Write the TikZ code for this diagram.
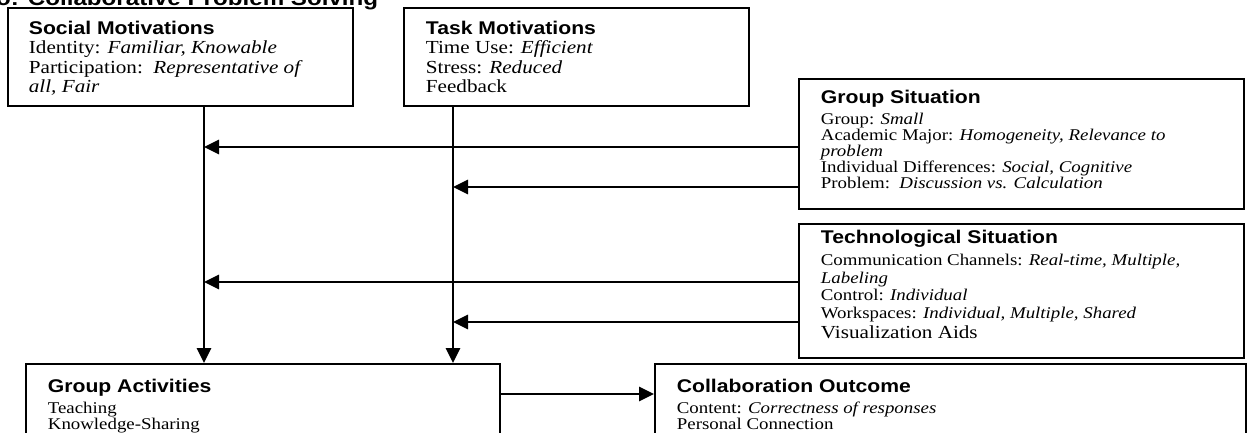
\documentclass[tikz,border=0pt]{standalone}
\usepackage{fontspec}
\setmainfont{Liberation Serif}[FakeStretch=1.15]
\setsansfont{Liberation Sans}[FakeStretch=1.15]
\usetikzlibrary{positioning}
\usetikzlibrary{arrows.meta}

\newcommand{\cardtext}[3]{\parbox[t][#2][t]{#1}{#3}}
\newcommand{\cardhead}[1]{{\sffamily\bfseries #1}}

\begin{document}
\begin{tikzpicture}[x=1pt, y=-1pt,
    card/.style = {draw, line width=1.8pt, anchor=north west},
    feed/.style = {line width=2.8pt, -{Triangle[length=15pt,width=14pt]}}]
    \useasboundingbox (0,0) rectangle (1248,433);

    \node[anchor=base west, inner sep=0pt, font=\sffamily\bfseries\fontsize{21pt}{22pt}\selectfont] (title) at (-4,5.5) {o: Collaborative Problem Solving};

    % top row
    \node[card, inner xsep=21pt, inner ysep=12.8pt] (social) at (7,7) {\cardtext{303pt}{72.4pt}{\fontsize{18.4pt}{19.5pt}\selectfont
        \cardhead{Social Motivations}\\
        Identity: \emph{Familiar, Knowable}\\
        Participation:\ \ \emph{Representative of}\\
        \emph{all, Fair}}};
    \node[card, inner xsep=22pt, inner ysep=12.8pt] (task) at (403,7) {\cardtext{301pt}{72.4pt}{\fontsize{18.4pt}{19.5pt}\selectfont
        \cardhead{Task Motivations}\\
        Time Use: \emph{Efficient}\\
        Stress: \emph{Reduced}\\
        Feedback}};

    % right column
    \node[card, inner xsep=22pt, inner ysep=10.8pt] (grp) at (798,78) {\cardtext{401pt}{108.4pt}{\fontsize{16.4pt}{16pt}\selectfont
        {\fontsize{18.4pt}{16pt}\selectfont\cardhead{Group Situation}}\\[5pt]
        Group: \emph{Small}\\
        Academic Major: \emph{Homogeneity, Relevance to}\\
        \emph{problem}\\
        Individual Differences: \emph{Social, Cognitive}\\
        Problem:\ \ \emph{Discussion vs. Calculation}}};
    \node[card, inner xsep=22pt, inner ysep=6.6pt] (tech) at (798,223) {\cardtext{401pt}{120.8pt}{\fontsize{16.4pt}{17.5pt}\selectfont
        {\fontsize{18.4pt}{17.5pt}\selectfont\cardhead{Technological Situation}}\\[4.5pt]
        Communication Channels: \emph{Real-time, Multiple,}\\
        \emph{Labeling}\\
        Control: \emph{Individual}\\
        Workspaces: \emph{Individual, Multiple, Shared}\\[2.5pt]
        {\fontsize{18.4pt}{17.5pt}\selectfont Visualization Aids}}};

    % bottom row
    \node[card, inner xsep=22pt, inner ysep=15.6pt] (gact) at (25,363) {\cardtext{430pt}{58.8pt}{\fontsize{16.4pt}{16pt}\selectfont
        {\fontsize{18.4pt}{16pt}\selectfont\cardhead{Group Activities}}\\[5pt]
        Teaching\\
        Knowledge-Sharing}};
    \node[card, inner xsep=22pt, inner ysep=15.6pt] (collab) at (654,363) {\cardtext{547pt}{58.8pt}{\fontsize{16.4pt}{16pt}\selectfont
        {\fontsize{18.4pt}{16pt}\selectfont\cardhead{Collaboration Outcome}}\\[5pt]
        Content: \emph{Correctness of responses}\\
        Personal Connection}};

    \coordinate (sm-out) at ([xshift=197pt]social.south west);
    \coordinate (tm-out) at ([xshift=50pt]task.south west);
    \coordinate (gs-a) at ([yshift=-69pt]grp.north west);
    \coordinate (gs-b) at ([yshift=-109pt]grp.north west);
    \coordinate (ts-a) at ([yshift=-59pt]tech.north west);
    \coordinate (ts-b) at ([yshift=-99pt]tech.north west);
    \coordinate (ga-out) at ([yshift=-31pt]gact.north east);

    \draw[feed] (sm-out) -- (sm-out |- gact.north);
    \draw[feed] (tm-out) -- (tm-out |- gact.north);
    \draw[feed] (gs-a) -- (gs-a -| sm-out);
    \draw[feed] (gs-b) -- (gs-b -| tm-out);
    \draw[feed] (ts-a) -- (ts-a -| sm-out);
    \draw[feed] (ts-b) -- (ts-b -| tm-out);
    \draw[feed] (ga-out) -- (ga-out -| collab.west);

\end{tikzpicture}
\end{document}
